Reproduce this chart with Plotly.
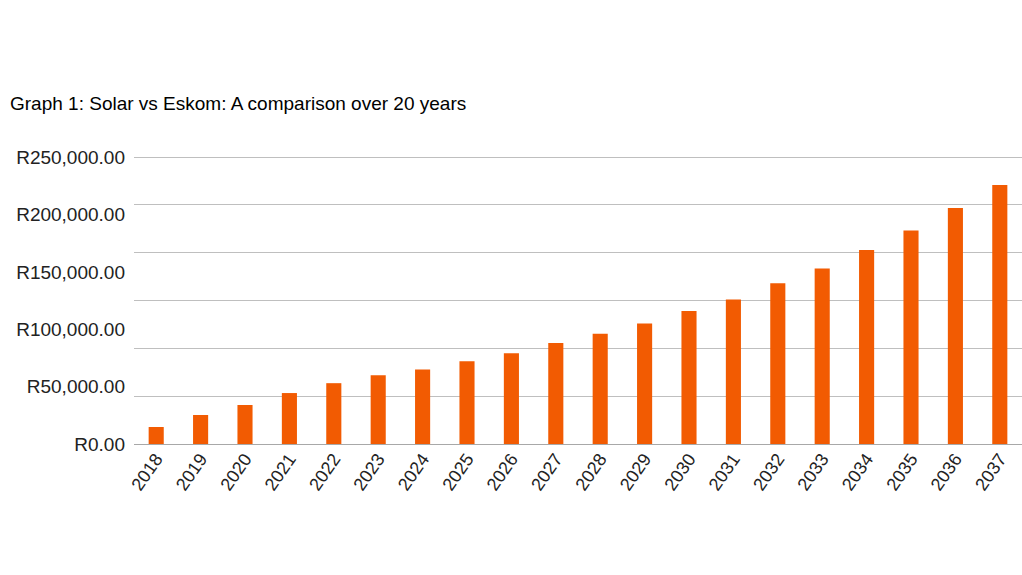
import plotly.graph_objects as go

years = [str(y) for y in range(2018, 2038)]
values = [14800, 25300, 34000, 44400, 53000, 60000, 65000, 72000, 79000, 88000,
          96000, 105000, 116000, 126000, 140000, 153000, 169000, 186000, 205600, 225600]
y_ticks = [0, 50000, 100000, 150000, 200000, 250000]
y_labels = ["R0.00", "R50,000.00", "R100,000.00", "R150,000.00", "R200,000.00", "R250,000.00"]
grid_steps = [0, 1, 2, 3, 4, 5, 6]

fig = go.Figure()
fig.add_trace(go.Bar(x=years, y=values, marker=dict(color="#F25B02", line=dict(width=0)),
                     showlegend=False, hoverinfo="x+y"))
# invisible trace on a secondary axis to draw the chart's gridlines
fig.add_trace(go.Scatter(x=[years[0], years[-1]], y=[0, 6], yaxis="y2", mode="markers",
                         marker=dict(opacity=0), showlegend=False, hoverinfo="skip"))

fig.update_layout(
    width=1022, height=575,
    margin=dict(l=134, r=0, t=154, b=131),
    paper_bgcolor="white", plot_bgcolor="white",
    font=dict(family="Liberation Sans, Arial, sans-serif", color="#222222"),
    title=dict(text="Graph 1: Solar vs Eskom: A comparison over 20 years",
               x=10/1022, xanchor="left", xref="container", y=1-103/575, yanchor="middle",
               yref="container", font=dict(size=19, color="#000000")),
    bargap=0.66,
    xaxis=dict(type="category", tickangle=-55, tickfont=dict(size=18, color="#222222"),
               range=[-0.5, 19.5], autorange=False,
               showgrid=False, showline=False, ticks="", zeroline=False),
    yaxis=dict(range=[0, 252700], tickvals=y_ticks, ticktext=y_labels, showgrid=False,
               zeroline=False, showline=False, ticks="", ticklabelstandoff=8,
               tickfont=dict(size=19, color="#222222")),
    yaxis2=dict(range=[0, 6.065], overlaying="y", tickvals=grid_steps, showticklabels=False,
                showgrid=True, gridcolor="#bfbfbf", gridwidth=1, zeroline=True,
                zerolinecolor="#a8a8a8", zerolinewidth=1, showline=False, ticks="",
                side="right", layer="below traces"),
)
fig.write_html("out.html")
